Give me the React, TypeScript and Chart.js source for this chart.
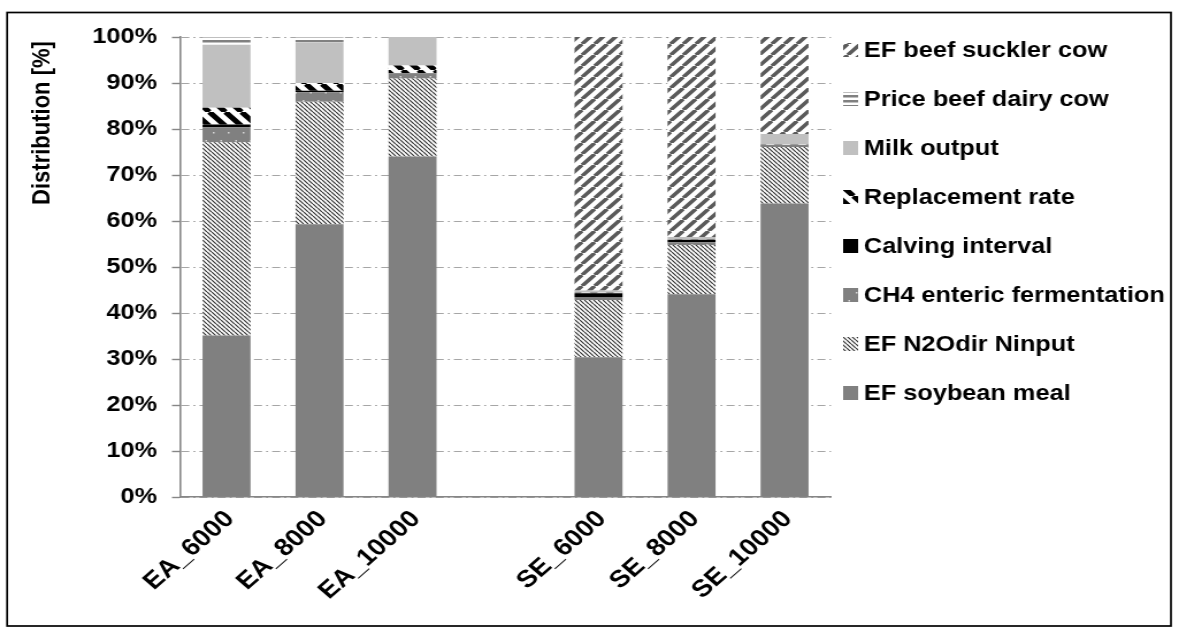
import React, { useEffect, useRef } from 'react';
import { Chart, registerables } from 'chart.js';

Chart.register(...registerables);

// ---- data (percent shares) ----
const categories = ['EA_6000', 'EA_8000', 'EA_10000', '', 'SE_6000', 'SE_8000', 'SE_10000'];
const efSoybeanMeal = [35.1, 59.3, 74.0, null, 30.4, 44.1, 63.8];
const efN2OdirNinput = [42.0, 26.6, 17.0, null, 12.4, 10.7, 12.3];
const ch4EntericFermentation = [3.3, 2.1, 1.1, null, 0.7, 0.6, 0.3];
const calvingInterval = [0.6, 0.3, 0.1, null, 0.8, 0.5, 0.1];
const replacementRate = [3.6, 1.7, 1.6, null, 0.1, 0.1, 0.1];
const milkOutput = [13.7, 8.8, 6.2, null, 0.5, 0.5, 2.3];
const priceBeefDairyCow = [1.7, 1.2, 0, null, 0, 0, 0];
const efBeefSucklerCow = [0, 0, 0, null, 55.1, 43.5, 21.1];

const seriesLabels = [
  'EF soybean meal',
  'EF N2Odir Ninput',
  'CH4 enteric fermentation',
  'Calving interval',
  'Replacement rate',
  'Milk output',
  'Price beef dairy cow',
  'EF beef suckler cow',
];
const yTickValues = [0, 10, 20, 30, 40, 50, 60, 70, 80, 90, 100];
const yTitle = 'Distribution [%]';

// ---- rendering geometry (internal canvas px; canvas is stretched horizontally) ----
const SCREEN_W = 1179;
const SCREEN_H = 635;
const INNER_W = 1025;
const FONT = '"Liberation Sans", Arial, Helvetica, sans-serif';

function tile(w: number, h: number, draw: (c: CanvasRenderingContext2D) => void) {
  const cv = document.createElement('canvas');
  cv.width = w;
  cv.height = h;
  const c = cv.getContext('2d')!;
  draw(c);
  return c.createPattern(cv, 'repeat') as CanvasPattern;
}

function stripes(p: number, lw: number, color: string, dir: '/' | '\\') {
  return tile(p, p, (c) => {
    c.fillStyle = '#ffffff';
    c.fillRect(0, 0, p, p);
    c.strokeStyle = color;
    c.lineWidth = lw;
    c.beginPath();
    for (let k = -1; k <= 1; k++) {
      if (dir === '/') {
        c.moveTo(k * p, p);
        c.lineTo(k * p + p, 0);
      } else {
        c.moveTo(k * p, 0);
        c.lineTo(k * p + p, p);
      }
    }
    c.stroke();
  });
}

function makeFills() {
  const soy = '#808080';
  const n2o = stripes(4, 1.2, '#333333', '\\');
  const ch4 = tile(13, 16, (c) => {
    c.fillStyle = '#808080';
    c.fillRect(0, 0, 13, 16);
    c.fillStyle = '#d8d8d8';
    c.fillRect(3, 4, 1.5, 1.5);
    c.fillRect(9.5, 12, 1.5, 1.5);
  });
  const calving = '#000000';
  const repl = stripes(14, 5, '#000000', '\\');
  const milk = '#c0c0c0';
  const price = tile(4, 5, (c) => {
    c.fillStyle = '#ffffff';
    c.fillRect(0, 0, 4, 5);
    c.fillStyle = '#808080';
    c.fillRect(0, 0, 4, 2.5);
  });
  const suckler = stripes(11, 3.6, '#5a5a5a', '/');
  return [soy, n2o, ch4, calving, repl, milk, price, suckler];
}

const framePlugin = {
  id: 'frameAndLegend',
  afterDraw(chart: any) {
    const ctx: CanvasRenderingContext2D = chart.ctx;
    ctx.save();
    // outer frame
    ctx.strokeStyle = '#000000';
    ctx.lineWidth = 1.7;
    ctx.strokeRect(6.2, 12.5, 1011.8, 613.5);
    // y axis title
    ctx.fillStyle = '#000000';
    ctx.font = `bold 22px ${FONT}`;
    ctx.translate(37.4, 123);
    ctx.rotate(-Math.PI / 2);
    ctx.textAlign = 'center';
    ctx.textBaseline = 'middle';
    ctx.fillText(yTitle, 0, 0);
    ctx.restore();

    // legend (reversed order)
    ctx.save();
    const ds = chart.data.datasets;
    const n = ds.length;
    ctx.font = `bold 22px ${FONT}`;
    ctx.textAlign = 'left';
    ctx.textBaseline = 'middle';
    for (let i = n - 1; i >= 0; i--) {
      const r = n - 1 - i;
      const y = 50 + r * 49;
      ctx.fillStyle = ds[i].backgroundColor;
      ctx.fillRect(733, y - 7, 13, 14);
      ctx.fillStyle = '#000000';
      ctx.fillText(ds[i].label, 751, y + 1);
    }
    ctx.restore();
  },
};

export default function App() {
  const ref = useRef<HTMLCanvasElement | null>(null);

  useEffect(() => {
    const canvas = ref.current!;
    const fills = makeFills();
    const values = [
      efSoybeanMeal,
      efN2OdirNinput,
      ch4EntericFermentation,
      calvingInterval,
      replacementRate,
      milkOutput,
      priceBeefDairyCow,
      efBeefSucklerCow,
    ];
    Chart.defaults.font.family = FONT;
    const chart = new Chart(canvas, {
      type: 'bar',
      data: {
        labels: categories,
        datasets: values.map((v, i) => ({
          label: seriesLabels[i],
          data: v,
          backgroundColor: fills[i] as any,
          borderWidth: 0,
          categoryPercentage: 1,
          barPercentage: 0.516,
        })),
      },
      options: {
        animation: false,
        responsive: false,
        devicePixelRatio: 1,
        events: [],
        layout: { padding: { left: 0, top: 37, right: INNER_W - 722.5, bottom: 0 } },
        plugins: {
          legend: { display: false },
          tooltip: { enabled: false },
          title: { display: false },
        },
        scales: {
          x: {
            stacked: true,
            grid: { display: false, drawTicks: false },
            border: { display: true, color: '#868686', width: 1.6 },
            ticks: {
              color: '#000000',
              font: { size: 24, weight: 'bold', family: FONT },
              minRotation: 45,
              maxRotation: 45,
              autoSkip: false,
              padding: 8,
              labelOffset: 3,
            },
            afterFit: (s: any) => {
              s.height = SCREEN_H - 497;
              s.paddingLeft = 0;
              s.paddingRight = 0;
            },
          },
          y: {
            stacked: true,
            min: 0,
            max: 100,
            afterBuildTicks: (s: any) => {
              s.ticks = yTickValues.map((v) => ({ value: v }));
            },
            grid: {
              color: '#a6a6a6',
              lineWidth: 1,
              tickLength: 7,
              tickColor: '#868686',
              tickWidth: 1.4,
            },
            border: { display: true, color: '#868686', width: 1.6, dash: [7, 3.5, 1.8, 3.5] },
            ticks: {
              color: '#000000',
              font: { size: 22, weight: 'bold', family: FONT },
              padding: 13,
              callback: (v: any) => `${v}%`,
            },
            afterFit: (s: any) => {
              s.width = 156.5;
            },
          },
        },
      },
      plugins: [framePlugin],
    } as any);
    return () => chart.destroy();
  }, []);

  return (
    <div style={{ position: 'absolute', left: 0, top: 0, width: SCREEN_W, height: SCREEN_H, background: '#ffffff' }}>
      <canvas
        ref={ref}
        width={INNER_W}
        height={SCREEN_H}
        style={{ width: `${SCREEN_W}px`, height: `${SCREEN_H}px`, display: 'block' }}
      />
    </div>
  );
}
